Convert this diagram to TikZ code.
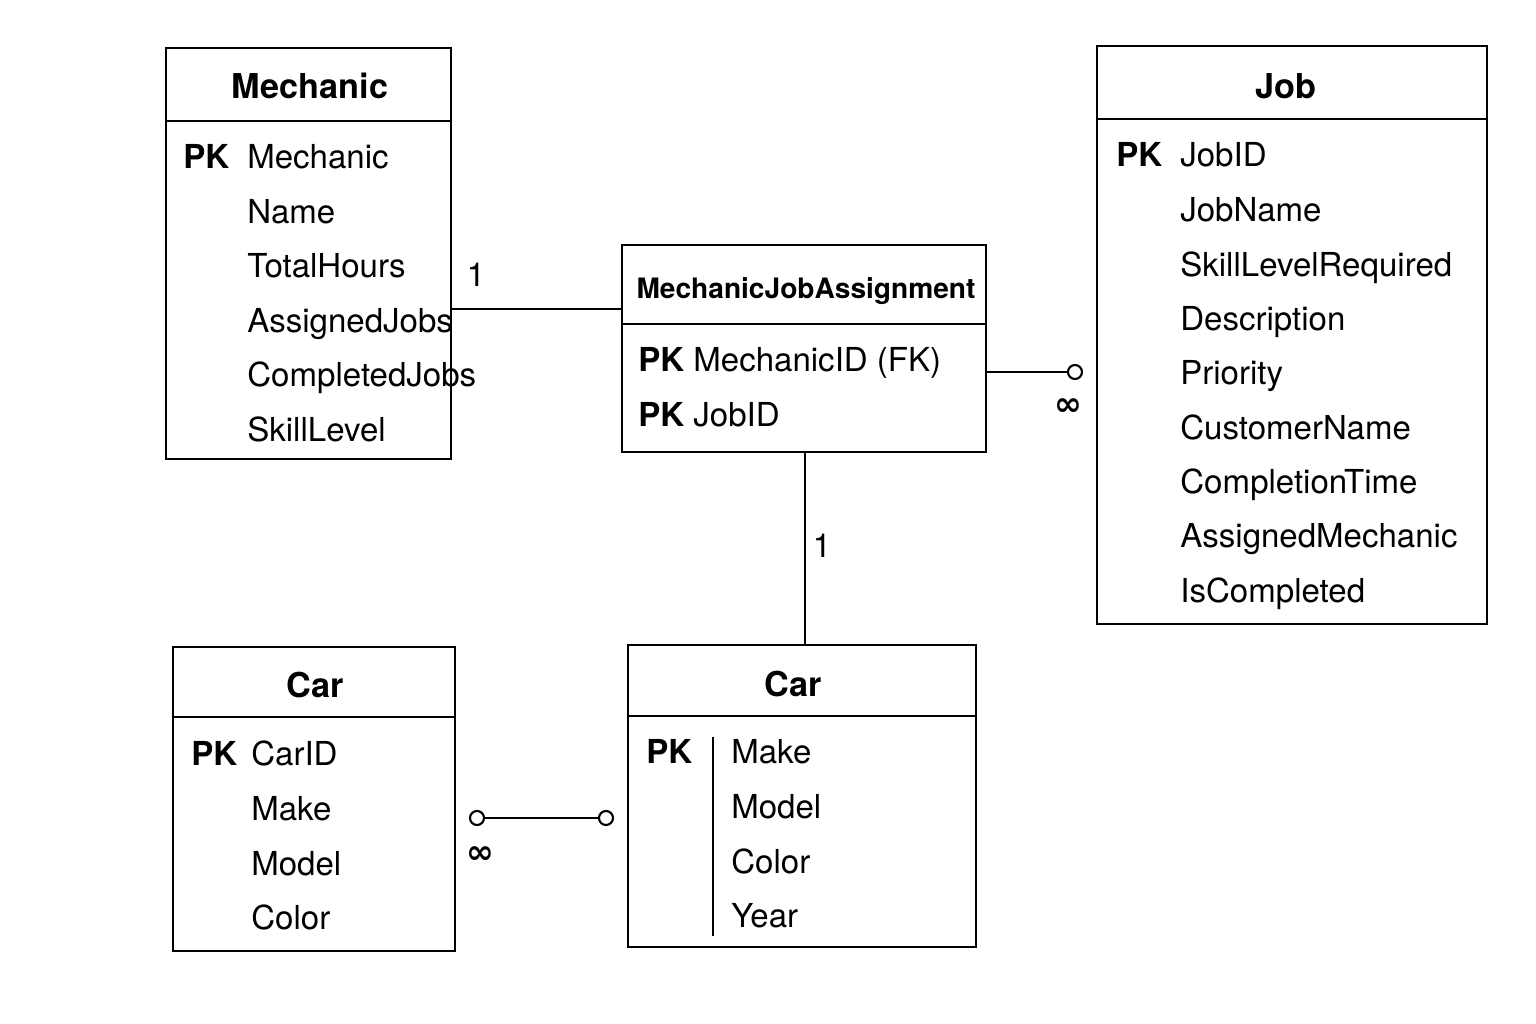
\documentclass[tikz,border=0pt]{standalone}
\usepackage{fontspec}
\setmainfont{TeX Gyre Heros}
\newfontfamily\symfont{DejaVu Sans}

\begin{document}
\begin{tikzpicture}[x=0.02cm, y=-0.02cm,
		tablebox/.style={draw, line width=1.3pt, inner sep=0},
		title/.style={font=\fontsize{19.5}{22}\selectfont\bfseries, inner sep=0,
			text height=14pt, text depth=0pt},
		smalltitle/.style={font=\fontsize{16}{19}\selectfont\bfseries, inner sep=0,
			text height=11.5pt, text depth=0pt},
		field/.style={font=\fontsize{18.8}{22}\selectfont, anchor=west, inner sep=0,
			text height=13.5pt, text depth=0pt},
		keyfield/.style={field, font=\fontsize{18.8}{22}\selectfont\bfseries},
		endcircle/.style={circle, draw, fill=white, line width=1.2pt,
			minimum size=0.28cm, inner sep=0},
		link/.style={line width=1.2pt},
		card/.style={font=\fontsize{18.8}{22}\selectfont, inner sep=0,
			text height=13.5pt, text depth=0pt},
		many/.style={font=\fontsize{19}{20}\selectfont\symfont\bfseries, inner sep=0}
		]
		\useasboundingbox (0,0) rectangle (1536,1024);

		% Mechanic
		\node[tablebox, minimum width=5.7cm, minimum height=8.22cm](mech) at (308.5,253.5){};
		\draw[line width=1.3pt] (mech.west |- 0,121) -- (mech.east |- 0,121);
		\node[title](mechT) at (310,86){Mechanic};
		\node[keyfield](mechPK) at (183,157){PK};
		\node[field](mechF1) at (247,157){Mechanic};
		\node[field](mechF2) at (247,212){Name};
		\node[field](mechF3) at (247,266){TotalHours};
		\node[field](mechF4) at (247,321){AssignedJobs};
		\node[field](mechF5) at (247,375){CompletedJobs};
		\node[field](mechF6) at (247,430){SkillLevel};

		% Job
		\node[tablebox, minimum width=7.8cm, minimum height=11.56cm](job) at (1292,335){};
		\draw[line width=1.3pt] (job.west |- 0,119) -- (job.east |- 0,119);
		\node[title](jobT) at (1286,86){Job};
		\node[keyfield](jobPK) at (1116,155){PK};
		\node[field](jobF1) at (1180,155){JobID};
		\node[field](jobF2) at (1180,210){JobName};
		\node[field](jobF3) at (1180,265){SkillLevelRequired};
		\node[field](jobF4) at (1180,319){Description};
		\node[field](jobF5) at (1180,373){Priority};
		\node[field](jobF6) at (1180,428){CustomerName};
		\node[field](jobF7) at (1180,482){CompletionTime};
		\node[field](jobF8) at (1180,536){AssignedMechanic};
		\node[field](jobF9) at (1180,591){IsCompleted};

		% MechanicJobAssignment
		\node[tablebox, minimum width=7.28cm, minimum height=4.14cm](mja) at (804,348.5){};
		\draw[line width=1.3pt] (mja.west |- 0,324) -- (mja.east |- 0,324);
		\node[smalltitle](mjaT) at (806,288){MechanicJobAssignment};
		\node[field](mjaF1) at (638,360){\textbf{PK} MechanicID (FK)};
		\node[field](mjaF2) at (638,415){\textbf{PK} JobID};

		% Car (left)
		\node[tablebox, minimum width=5.64cm, minimum height=6.08cm](carl) at (314,799){};
		\draw[line width=1.3pt] (carl.west |- 0,717) -- (carl.east |- 0,717);
		\node[title](carlT) at (315,685){Car};
		\node[keyfield](carlPK) at (191,754){PK};
		\node[field](carlF1) at (251,754){CarID};
		\node[field](carlF2) at (251,809){Make};
		\node[field](carlF3) at (251,864){Model};
		\node[field](carlF4) at (251,918){Color};

		% Car (right)
		\node[tablebox, minimum width=6.96cm, minimum height=6.04cm](carr) at (802,796){};
		\draw[line width=1.3pt] (carr.west |- 0,716) -- (carr.east |- 0,716);
		\node[title](carrT) at (793,684){Car};
		\node[keyfield](carrPK) at (646,752){PK};
		\draw[line width=1.1pt] (713,737) -- (713,936);
		\node[field](carrF1) at (731,752){Make};
		\node[field](carrF2) at (731,807){Model};
		\node[field](carrF3) at (731,862){Color};
		\node[field](carrF4) at (731,916){Year};

		% connectors
		\coordinate (mechOut) at (451,309);
		\draw[link] (mechOut) -- (mechOut -| mja.west);
		\node[card](c1) at (476,275){1};

		\node[endcircle](jobEnd) at (1075,372){};
		\draw[link] (mja.east |- jobEnd) -- (jobEnd.west);
		\node[many](jobMany) at (1068,407){∞};

		\draw[link] (mja.south -| 805,0) -- (carr.north -| 805,0);
		\node[card](c2) at (822,546){1};

		\node[endcircle](carA) at (477,818){};
		\node[endcircle](carB) at (606,818){};
		\draw[link] (carA.east) -- (carB.west);
		\node[many](carMany) at (480,855){∞};
	\end{tikzpicture}
\end{document}
